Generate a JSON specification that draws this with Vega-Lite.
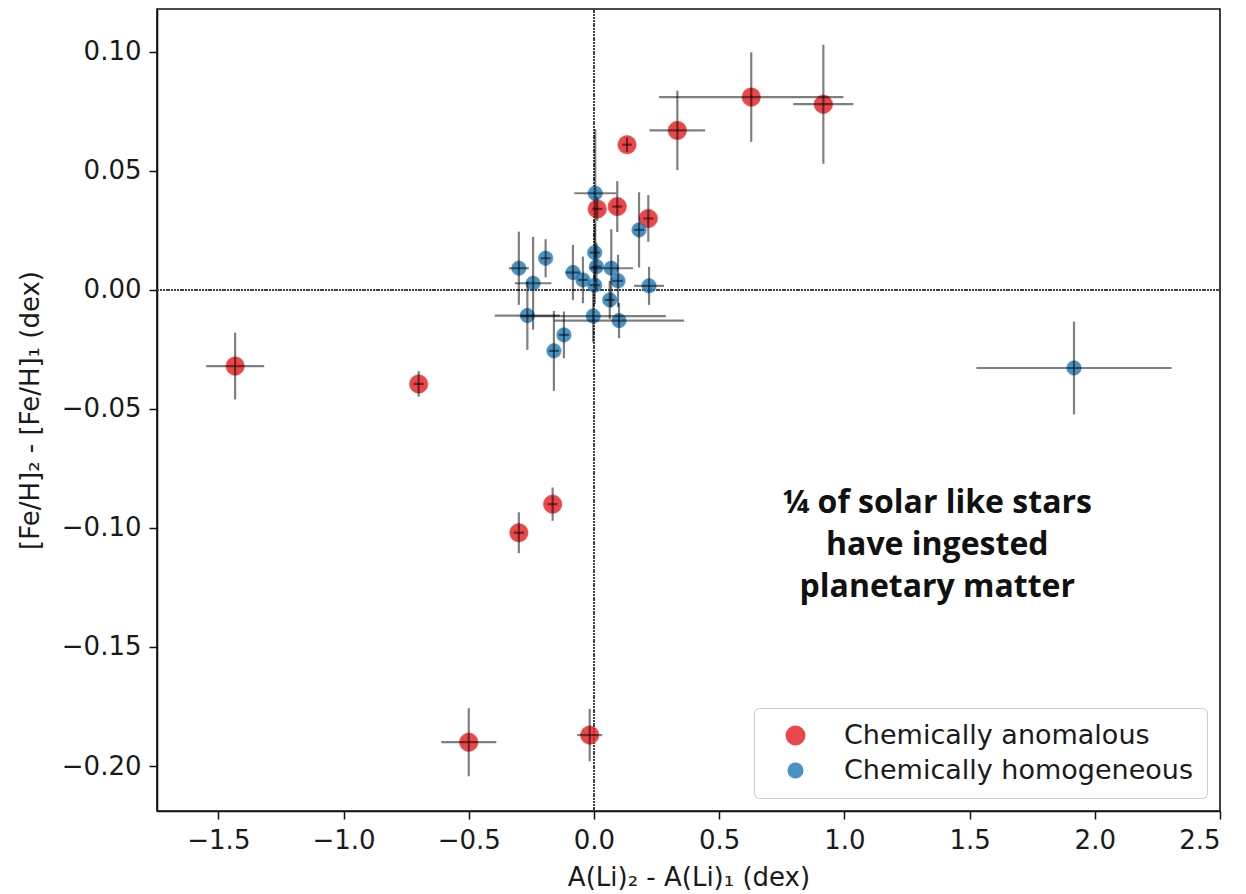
{
  "$schema": "https://vega.github.io/schema/vega-lite/v6.json",
  "width": 1063,
  "height": 802,
  "autosize": {"type": "none"},
  "padding": {"left": 157, "top": 9, "right": 26, "bottom": 83},
  "background": "white",
  "config": {
    "view": {"stroke": "#111", "strokeWidth": 1.6},
    "axis": {
      "grid": false,
      "domainColor": "#111",
      "domainWidth": 1.6,
      "tickColor": "#111",
      "tickWidth": 1.5,
      "tickSize": 8,
      "labelFont": "DejaVu Sans",
      "labelFontSize": 26,
      "labelColor": "#1a1a1a",
      "titleFont": "DejaVu Sans",
      "titleFontSize": 26,
      "titleFontWeight": "normal",
      "titleColor": "#1a1a1a"
    },
    "legend": {
      "labelFont": "DejaVu Sans",
      "labelFontSize": 27,
      "labelColor": "#1a1a1a",
      "labelLimit": 0
    }
  },
  "datasets": {
    "stars": [
      {"dli": -1.433, "dfe": -0.032, "dli_err": 0.116, "dfe_err": 0.014, "group": "Chemically anomalous"},
      {"dli": -0.70, "dfe": -0.0395, "dli_err": 0.02, "dfe_err": 0.0054, "group": "Chemically anomalous"},
      {"dli": -0.165, "dfe": -0.090, "dli_err": 0.02, "dfe_err": 0.007, "group": "Chemically anomalous"},
      {"dli": -0.30, "dfe": -0.102, "dli_err": 0.02, "dfe_err": 0.0086, "group": "Chemically anomalous"},
      {"dli": -0.50, "dfe": -0.190, "dli_err": 0.11, "dfe_err": 0.0143, "group": "Chemically anomalous"},
      {"dli": -0.017, "dfe": -0.187, "dli_err": 0.05, "dfe_err": 0.011, "group": "Chemically anomalous"},
      {"dli": 0.132, "dfe": 0.061, "dli_err": 0.02, "dfe_err": 0.003, "group": "Chemically anomalous"},
      {"dli": 0.333, "dfe": 0.067, "dli_err": 0.111, "dfe_err": 0.0167, "group": "Chemically anomalous"},
      {"dli": 0.628, "dfe": 0.081, "dli_err": 0.368, "dfe_err": 0.0188, "group": "Chemically anomalous"},
      {"dli": 0.916, "dfe": 0.078, "dli_err": 0.12, "dfe_err": 0.025, "group": "Chemically anomalous"},
      {"dli": 0.013, "dfe": 0.034, "dli_err": 0.02, "dfe_err": 0.005, "group": "Chemically anomalous"},
      {"dli": 0.093, "dfe": 0.035, "dli_err": 0.02, "dfe_err": 0.0107, "group": "Chemically anomalous"},
      {"dli": 0.217, "dfe": 0.030, "dli_err": 0.02, "dfe_err": 0.0098, "group": "Chemically anomalous"},
      {"dli": 0.005, "dfe": 0.0406, "dli_err": 0.084, "dfe_err": 0.027, "group": "Chemically homogeneous"},
      {"dli": 0.18, "dfe": 0.0252, "dli_err": 0.02, "dfe_err": 0.0158, "group": "Chemically homogeneous"},
      {"dli": 0.003, "dfe": 0.0157, "dli_err": 0.02, "dfe_err": 0.012, "group": "Chemically homogeneous"},
      {"dli": -0.193, "dfe": 0.0133, "dli_err": 0.02, "dfe_err": 0.008, "group": "Chemically homogeneous"},
      {"dli": -0.30, "dfe": 0.0091, "dli_err": 0.04, "dfe_err": 0.0154, "group": "Chemically homogeneous"},
      {"dli": -0.084, "dfe": 0.0073, "dli_err": 0.03, "dfe_err": 0.0116, "group": "Chemically homogeneous"},
      {"dli": 0.01, "dfe": 0.0098, "dli_err": 0.02, "dfe_err": 0.01, "group": "Chemically homogeneous"},
      {"dli": 0.069, "dfe": 0.0091, "dli_err": 0.087, "dfe_err": 0.0164, "group": "Chemically homogeneous"},
      {"dli": -0.243, "dfe": 0.0028, "dli_err": 0.073, "dfe_err": 0.0195, "group": "Chemically homogeneous"},
      {"dli": -0.044, "dfe": 0.0042, "dli_err": 0.02, "dfe_err": 0.0098, "group": "Chemically homogeneous"},
      {"dli": 0.003, "dfe": 0.002, "dli_err": 0.02, "dfe_err": 0.008, "group": "Chemically homogeneous"},
      {"dli": 0.096, "dfe": 0.0038, "dli_err": 0.02, "dfe_err": 0.011, "group": "Chemically homogeneous"},
      {"dli": 0.22, "dfe": 0.0017, "dli_err": 0.06, "dfe_err": 0.008, "group": "Chemically homogeneous"},
      {"dli": 0.063, "dfe": -0.0042, "dli_err": 0.02, "dfe_err": 0.008, "group": "Chemically homogeneous"},
      {"dli": -0.266, "dfe": -0.0108, "dli_err": 0.13, "dfe_err": 0.0144, "group": "Chemically homogeneous"},
      {"dli": -0.003, "dfe": -0.011, "dli_err": 0.29, "dfe_err": 0.011, "group": "Chemically homogeneous"},
      {"dli": 0.10, "dfe": -0.0129, "dli_err": 0.26, "dfe_err": 0.0074, "group": "Chemically homogeneous"},
      {"dli": -0.12, "dfe": -0.0189, "dli_err": 0.02, "dfe_err": 0.0098, "group": "Chemically homogeneous"},
      {"dli": -0.16, "dfe": -0.0256, "dli_err": 0.02, "dfe_err": 0.0168, "group": "Chemically homogeneous"},
      {"dli": 1.917, "dfe": -0.0328, "dli_err": 0.39, "dfe_err": 0.0195, "group": "Chemically homogeneous"}
    ],
    "note": [
      {"dli": 1.371, "dfe": -0.0895, "label": "¼ of solar like stars\nhave ingested\nplanetary matter"}
    ]
  },
  "data": {"name": "stars"},
  "layer": [
    {
      "mark": {"type": "rule", "strokeDash": [1.2, 1.6], "color": "#444", "strokeWidth": 1},
      "encoding": {"x": {"datum": 0, "type": "quantitative"}}
    },
    {
      "mark": {"type": "rule", "strokeDash": [1.2, 1.6], "color": "#444", "strokeWidth": 1},
      "encoding": {"y": {"datum": 0, "type": "quantitative"}}
    },
    {
      "mark": {"type": "circle", "opacity": 0.8, "strokeWidth": 1, "strokeOpacity": 0.6},
      "encoding": {
        "x": {
          "field": "dli", "type": "quantitative",
          "title": "A(Li)₂ - A(Li)₁ (dex)",
          "scale": {"domain": [-1.745, 2.5], "nice": false, "zero": false},
          "axis": {"values": [-1.5, -1.0, -0.5, 0.0, 0.5, 1.0, 1.5, 2.0, 2.5], "format": ".1f", "labelPadding": 8, "titlePadding": 11}
        },
        "y": {
          "field": "dfe", "type": "quantitative",
          "title": "[Fe/H]₂ - [Fe/H]₁ (dex)",
          "scale": {"domain": [-0.2189, 0.118], "nice": false, "zero": false},
          "axis": {"values": [-0.2, -0.15, -0.1, -0.05, 0.0, 0.05, 0.1], "format": ".2f", "labelPadding": 8, "titlePadding": 18}
        },
        "color": {
          "field": "group", "type": "nominal",
          "scale": {"domain": ["Chemically anomalous", "Chemically homogeneous"], "range": ["#e41a1c", "#1f77b4"]},
          "legend": {
            "title": null,
            "orient": "bottom-right",
            "offset": 13,
            "padding": 14,
            "strokeColor": "#cccccc",
            "fillColor": "rgba(255,255,255,0.85)",
            "cornerRadius": 5,
            "rowPadding": 7,
            "symbolOffset": 14,
            "labelOffset": 35,
            "symbolOpacity": 0.8
          }
        },
        "stroke": {
          "field": "group", "type": "nominal",
          "scale": {"domain": ["Chemically anomalous", "Chemically homogeneous"], "range": ["#e41a1c", "#1f77b4"]},
          "legend": null
        },
        "size": {
          "field": "group", "type": "nominal",
          "scale": {"domain": ["Chemically anomalous", "Chemically homogeneous"], "range": [340, 210]},
          "legend": null
        }
      }
    },
    {
      "mark": {"type": "errorbar", "color": "#000", "opacity": 0.5, "thickness": 2.2},
      "encoding": {
        "x": {"field": "dli", "type": "quantitative", "title": "A(Li)₂ - A(Li)₁ (dex)"},
        "xError": {"field": "dli_err"},
        "y": {"field": "dfe", "type": "quantitative", "title": "[Fe/H]₂ - [Fe/H]₁ (dex)"}
      }
    },
    {
      "mark": {"type": "errorbar", "color": "#000", "opacity": 0.5, "thickness": 2.2},
      "encoding": {
        "y": {"field": "dfe", "type": "quantitative", "title": "[Fe/H]₂ - [Fe/H]₁ (dex)"},
        "yError": {"field": "dfe_err"},
        "x": {"field": "dli", "type": "quantitative", "title": "A(Li)₂ - A(Li)₁ (dex)"}
      }
    },
    {
      "data": {"name": "note"},
      "mark": {"type": "text", "font": "Open Sans", "fontWeight": 700, "fontSize": 32, "lineBreak": "\n", "lineHeight": 42, "align": "center", "baseline": "middle", "color": "#111"},
      "encoding": {
        "x": {"field": "dli", "type": "quantitative", "title": "A(Li)₂ - A(Li)₁ (dex)"},
        "y": {"field": "dfe", "type": "quantitative", "title": "[Fe/H]₂ - [Fe/H]₁ (dex)"},
        "text": {"field": "label"}
      }
    }
  ]
}
